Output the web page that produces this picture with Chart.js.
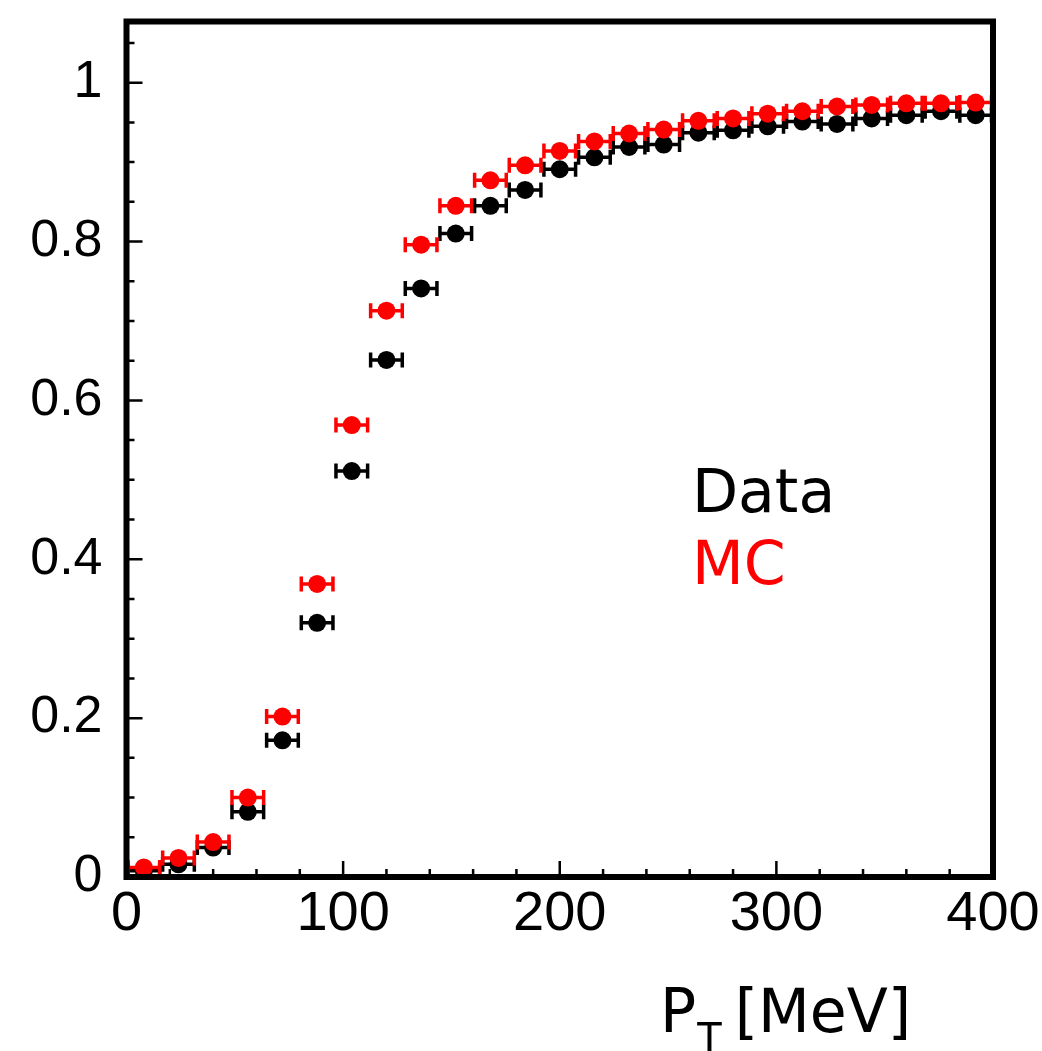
<!DOCTYPE html>
<html>
<head>
<meta charset="utf-8">
<script src="https://cdn.jsdelivr.net/npm/chart.js@4/dist/chart.umd.min.js"></script>
<style>
html,body{margin:0;padding:0;background:#fff;}
canvas{display:block;}
</style>
</head>
<body>
<canvas id="c" width="1042" height="1051"></canvas>
<script>
// ---- data ----
const binCenters = [8,24,40,56,72,88,104,120,136,152,168,184,200,216,232,248,264,280,296,312,328,344,360,376,392];
const binHalfWidth = [8,8,8,8,8,8,8,8,8,8,8,8,8,8,8,8,8,8,8,8,8,8,8,8,8];
const dataEff = [0.008,0.016,0.037,0.082,0.172,0.320,0.511,0.651,0.741,0.810,0.845,0.865,0.891,0.906,0.919,0.922,0.937,0.940,0.945,0.951,0.948,0.955,0.959,0.964,0.959];
const mcEff   = [0.012,0.024,0.044,0.100,0.202,0.369,0.569,0.713,0.796,0.845,0.877,0.896,0.914,0.926,0.936,0.941,0.952,0.955,0.961,0.964,0.970,0.972,0.974,0.974,0.975];
const seriesNames = ["Data","MC"];
const xMajorTicks = [0,100,200,300,400];
const yMajorTicks = [0,0.2,0.4,0.6,0.8,1];
const xTitle = ["P","T"," [MeV]"];

const toPts = (ys) => binCenters.map((x,i)=>({x:x,y:ys[i],ex:binHalfWidth[i]}));

const errorBars = {
  id:'errorBars',
  beforeDatasetDraw(chart, args){
    const ds = chart.data.datasets[args.index];
    const xs = chart.scales.x, ys = chart.scales.y, ctx = chart.ctx;
    ctx.save();
    ctx.strokeStyle = ds.backgroundColor;
    ctx.lineWidth = 3.5;
    ds.data.forEach(p=>{
      const x1 = xs.getPixelForValue(p.x - p.ex), x2 = xs.getPixelForValue(p.x + p.ex);
      const y = ys.getPixelForValue(p.y);
      ctx.beginPath();
      ctx.moveTo(x1,y); ctx.lineTo(x2,y);
      ctx.moveTo(x1+1.5,y-7.5); ctx.lineTo(x1+1.5,y+7.5);
      ctx.moveTo(x2-1.5,y-7.5); ctx.lineTo(x2-1.5,y+7.5);
      ctx.stroke();
    });
    ctx.restore();
  }
};

const frame = {
  id:'frame',
  afterDraw(chart){
    const {ctx, chartArea:a, scales:{x:xs,y:ys}} = chart;
    ctx.save();
    ctx.strokeStyle = '#000';
    ctx.lineWidth = 2.5;
    ctx.beginPath();
    for (let v=0; v<=400; v+=20){
      const px = xs.getPixelForValue(v);
      const len = (v%100===0)?16:8;
      ctx.moveTo(px,a.bottom); ctx.lineTo(px,a.bottom-len);
    }
    for (let k=0; k<=21; k++){
      const v = k*0.05;
      const py = ys.getPixelForValue(v);
      const len = (k%4===0)?16:8;
      ctx.moveTo(a.left,py); ctx.lineTo(a.left+len,py);
    }
    ctx.stroke();
    ctx.lineWidth = 6;
    ctx.strokeRect(a.left,a.top,a.right-a.left,a.bottom-a.top);
    // legend texts
    ctx.font = '60px "DejaVu Sans"';
    ctx.textBaseline = 'alphabetic';
    ctx.textAlign = 'left';
    const lx = xs.getPixelForValue(261);
    ctx.fillStyle = chart.data.datasets[1].backgroundColor;
    ctx.fillText(seriesNames[0], lx, 512);
    ctx.fillStyle = chart.data.datasets[0].backgroundColor;
    ctx.fillText(seriesNames[1], lx, 584);
    // axis title
    ctx.fillStyle = '#000';
    let tx = 660;
    ctx.fillText(xTitle[0], tx, 1032);
    tx += ctx.measureText(xTitle[0]).width + 1;
    ctx.font = '40px "DejaVu Sans"';
    ctx.fillText(xTitle[1], tx, 1052);
    tx += ctx.measureText(xTitle[1]).width - 6;
    ctx.font = '60px "DejaVu Sans"';
    ctx.fillText(xTitle[2], tx, 1032);
    ctx.restore();
  }
};

new Chart(document.getElementById('c'), {
  type:'scatter',
  data:{
    datasets:[
      {label:seriesNames[1], data:toPts(mcEff), backgroundColor:'#ff0000', borderColor:'#ff0000', pointRadius:9, pointBorderWidth:0, order:0},
      {label:seriesNames[0], data:toPts(dataEff), backgroundColor:'#000000', borderColor:'#000000', pointRadius:9, pointBorderWidth:0, order:1}
    ]
  },
  options:{
    responsive:false,
    animation:false,
    devicePixelRatio:1,
    layout:{padding:{left:0,right:49,top:21.5,bottom:0}},
    plugins:{legend:{display:false}, tooltip:{enabled:false}},
    scales:{
      x:{
        type:'linear', min:0, max:400,
        afterBuildTicks(s){ s.ticks = xMajorTicks.map(v=>({value:v})); },
        grid:{display:false, drawTicks:false},
        border:{display:false},
        ticks:{color:'#000', font:{family:'"Liberation Sans", Arial', size:56, lineHeight:1}, padding:10, maxRotation:0, autoSkip:false},
        afterFit(s){ s.height = 174; s.paddingLeft = 0; s.paddingRight = 0; }
      },
      y:{
        type:'linear', min:0, max:1.077,
        afterBuildTicks(s){ s.ticks = yMajorTicks.map(v=>({value:v})); },
        grid:{display:false, drawTicks:false},
        border:{display:false},
        ticks:{color:'#000', font:{family:'"Liberation Sans", Arial', size:52, lineHeight:1}, padding:24,
          callback:(v)=> (v===0||v===1)? String(v) : v.toFixed(1)},
        afterFit(s){ s.width = 126.5; s.paddingTop = 0; s.paddingBottom = 0; }
      }
    }
  },
  plugins:[errorBars, frame]
});
</script>
</body>
</html>
